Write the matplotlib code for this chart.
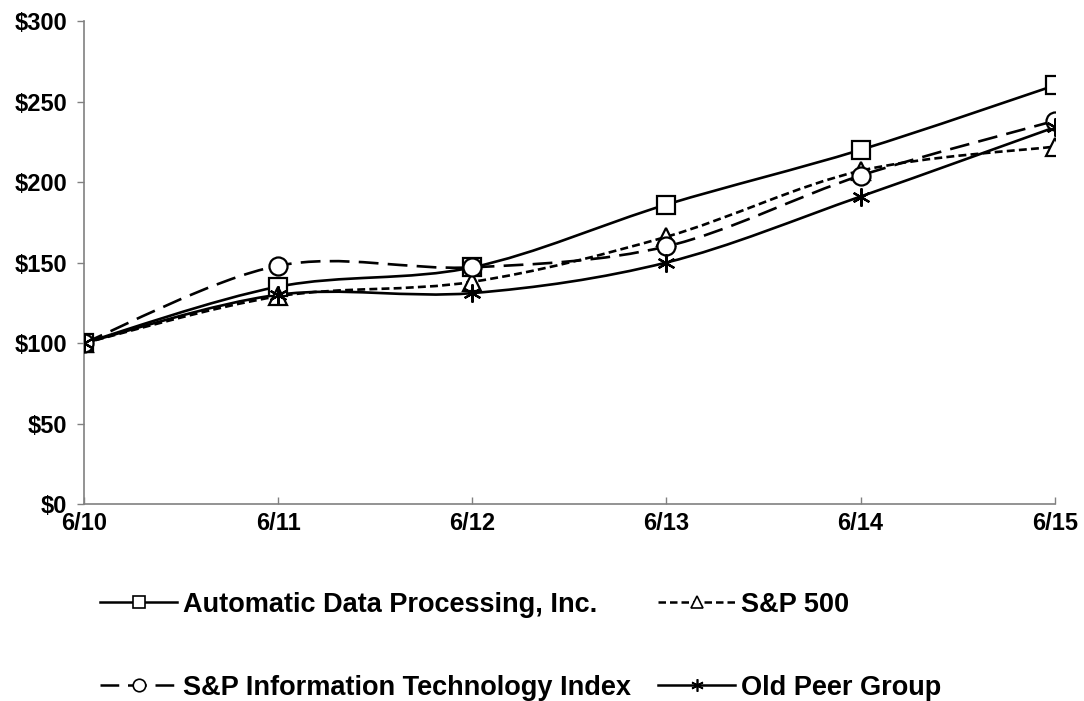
import numpy as np
import matplotlib
matplotlib.use("Agg")
import matplotlib.pyplot as plt
from matplotlib.path import Path
from matplotlib.patches import PathPatch
from matplotlib.lines import Line2D

plt.rcParams['font.family'] = ['Liberation Sans', 'DejaVu Sans']
plt.rcParams['font.weight'] = 'bold'

# Données (valeur de 100 $ investis au 6/10)
annees = ["6/10", "6/11", "6/12", "6/13", "6/14", "6/15"]
adp = [100, 135, 147, 186, 220, 260]
sp500 = [100, 129, 138, 166, 207, 222]
sp_it = [100, 148, 147, 160, 204, 238]
old_peer = [100, 130, 131, 150, 191, 234]

series = [
    ("Automatic Data Processing, Inc.", adp, "-", "s"),
    ("S&P 500", sp500, (0, (3.0, 1.6)), "^"),
    ("S&P Information Technology Index", sp_it, (0, (7.5, 3.5)), "o"),
    ("Old Peer Group", old_peer, "-", (6, 2, 0)),
]


def courbe_lissee(x, y):
    """
    Construit un chemin de Bezier (lissage type tableur) passant par les points
    """
    x = np.asarray(x, float)
    y = np.asarray(y, float)
    n = len(x)
    verts = [(x[0], y[0])]
    codes = [Path.MOVETO]
    for i in range(n - 1):
        i0 = max(i - 1, 0)
        i3 = min(i + 2, n - 1)
        c1 = (x[i] + (x[i + 1] - x[i0]) / 6, y[i] + (y[i + 1] - y[i0]) / 6)
        c2 = (x[i + 1] - (x[i3] - x[i]) / 6, y[i + 1] - (y[i3] - y[i]) / 6)
        verts += [c1, c2, (x[i + 1], y[i + 1])]
        codes += [Path.CURVE4] * 3
    return Path(verts, codes)


fig = plt.figure(figsize=(10.84, 7.01), dpi=100)
ax = fig.add_axes([0.0775, 0.281, 0.8955, 0.689])

x = np.arange(len(annees))
handles = []
for nom, val, style, mk in series:
    ax.add_patch(PathPatch(courbe_lissee(x, val), fill=False, edgecolor="black",
                           linewidth=1.9, linestyle=style, zorder=3))
    ax.plot(x, val, linestyle="none", marker=mk, markersize=13,
            markerfacecolor="white" if mk != (6, 2, 0) else "black",
            markeredgecolor="black", markeredgewidth=1.6, zorder=4)
    handles.append(Line2D([], [], color="black", linewidth=1.8, linestyle=style,
                          marker=mk, markersize=9, markerfacecolor="white",
                          markeredgecolor="black", markeredgewidth=1.2))

ax.set_xlim(0, len(annees) - 1)
ax.set_ylim(0, 300)
ax.set_xticks(x)
ax.set_xticklabels(annees)
ax.set_yticks(np.arange(0, 301, 50))
ax.set_yticklabels(["$%d" % v for v in range(0, 301, 50)])
for s in ["top", "right"]:
    ax.spines[s].set_visible(False)
for s in ["left", "bottom"]:
    ax.spines[s].set_color("#808080")
    ax.spines[s].set_linewidth(1.2)
ax.tick_params(axis="both", colors="#808080", labelcolor="black", labelsize=17,
               length=5, width=1)
ax.tick_params(axis="x", direction="in", pad=6)
ax.tick_params(axis="y", pad=7)

# Légende sur deux colonnes (ordre ligne par ligne comme l'original)
colonnes = [(0.0923, [0, 2]), (0.607, [1, 3])]
for xpos, idx in colonnes:
    leg = fig.legend(handles=[handles[i] for i in idx],
                     labels=[series[i][0] for i in idx],
                     loc="center left", bbox_to_anchor=(xpos, 0.078),
                     frameon=False, fontsize=19.5, handlelength=2.85,
                     handletextpad=0.2, labelspacing=2.1, borderpad=0,
                     borderaxespad=0)

fig.savefig("out.png", dpi=100)
